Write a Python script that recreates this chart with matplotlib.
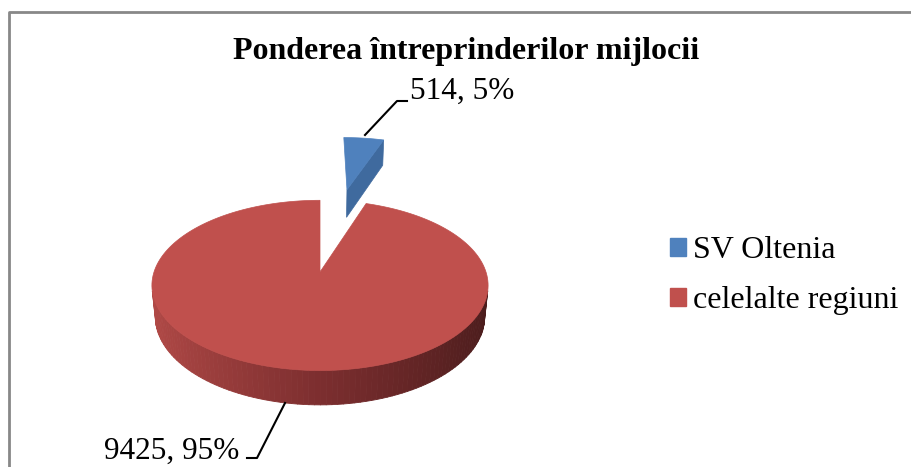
import numpy as np
import matplotlib
matplotlib.use("Agg")
import matplotlib.pyplot as plt
from matplotlib.patches import Polygon, Patch
from matplotlib.collections import PolyCollection

plt.rcParams['font.family'] = ['Liberation Serif', 'DejaVu Serif']

# date
categorii = ['SV Oltenia', 'celelalte regiuni']
valori = [514, 9425]
culori_sus = ['#4F81BD', '#C0504D']
culori_lat = ['#3F6A9E', '#7C2E2F']
explodare = [1.19, 0.0]
titlu = 'Ponderea întreprinderilor mijlocii'

W, H = 912, 467
fig = plt.figure(figsize=(W / 100, H / 100), dpi=100)
ax = fig.add_axes([0, 0, 1, 1])
ax.set_xlim(0, W)
ax.set_ylim(H, 0)
ax.axis('off')

# chenar
ax.plot([9.5, 9.5, W], [H, 11.5, 11.5], color='#888888', lw=2, solid_capstyle='butt')

# proiectie in perspectiva a discului (raza 1)
cx, cy = 320, 272
F, D = 913, 5.5
teta = np.radians(30)
h = 0.22


def proiect(X, Y, Z):
    X, Y, Z = np.asarray(X, float), np.asarray(Y, float), np.asarray(Z, float)
    adanc = D + Y * np.cos(teta) - Z * np.sin(teta)
    sx = cx + F * X / adanc
    sy = cy - F * (Y * np.sin(teta) + Z * np.cos(teta)) / adanc
    return np.column_stack([sx, sy])


def amestec(c1, c2, t):
    a = np.array(matplotlib.colors.to_rgb(c1))
    b = np.array(matplotlib.colors.to_rgb(c2))
    return tuple(a + (b - a) * t)


total = sum(valori)
unghiuri = np.cumsum([0] + [v / total * 360 for v in valori])

for i, v in enumerate(valori):
    a0, a1 = np.radians(unghiuri[i]), np.radians(unghiuri[i + 1])
    mij = (a0 + a1) / 2
    ox, oy = explodare[i] * np.sin(mij), explodare[i] * np.cos(mij)
    phi = np.linspace(a0, a1, 200)
    ax_x = ox + np.sin(phi)
    ax_y = oy + np.cos(phi)

    # perete exterior (doar partea vizibila)
    quads, cols = [], []
    for k in range(len(phi) - 1):
        pm = (phi[k] + phi[k + 1]) / 2
        if np.cos(pm) < -1 / (D * np.cos(teta)):
            xs = [ax_x[k], ax_x[k + 1], ax_x[k + 1], ax_x[k]]
            ys = [ax_y[k], ax_y[k + 1], ax_y[k + 1], ax_y[k]]
            zs = [0, 0, -h, -h]
            quads.append(proiect(xs, ys, zs))
            s = np.sin(pm)
            if s < 0:
                cols.append(amestec('#7C2E2F', '#B24A47', -s))
            else:
                cols.append(amestec('#7C2E2F', '#4A1C1C', s))
    if quads:
        ax.add_collection(PolyCollection(quads, facecolors=cols, edgecolors=cols, lw=0.6))

    # fata radiala vizibila (marginea din dreapta a feliei)
    if i == 0:
        ex, ey = ox + np.sin(a1), oy + np.cos(a1)
        fata = proiect([ox, ex, ex, ox], [oy, ey, ey, oy], [0, 0, -h, -h])
        ax.add_patch(Polygon(fata, closed=True, fc=culori_lat[i], ec=culori_lat[i], lw=0.5))

    # fata de sus
    sus = proiect(np.r_[ox, ax_x], np.r_[oy, ax_y], np.zeros(len(phi) + 1))
    ax.add_patch(Polygon(sus, closed=True, fc=culori_sus[i], ec=culori_sus[i], lw=0.5))

# etichete
proc = [round(v / total * 100) for v in valori]
et = [f'{v}, {p}%' for v, p in zip(valori, proc)]
ax.plot([365, 397, 407], [135, 101, 101], color='black', lw=1.5)
ax.text(410, 91, et[0], fontsize=22.5, ha='left', va='center')
ax.plot([285, 257, 247], [403, 458, 458], color='black', lw=1.5)
ax.text(239, 451, et[1], fontsize=22.5, ha='right', va='center')

ax.text(466, 52, titlu, fontsize=23, fontweight='bold', ha='center', va='center')

maner = [Patch(fc=c, ec=c) for c in culori_sus]
fig.legend(maner, categorii, loc='upper left', bbox_to_anchor=(670 / W, 1 - 236 / H),
           frameon=False, fontsize=23, handlelength=0.5, handleheight=0.5,
           handletextpad=0.22, labelspacing=0.67, borderaxespad=0, borderpad=0)

fig.savefig('out.png', dpi=100)
